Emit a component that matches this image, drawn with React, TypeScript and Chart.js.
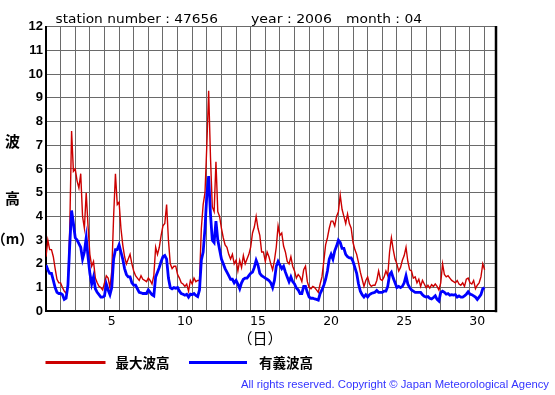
import { useEffect, useRef } from 'react';
import { Chart, registerables } from 'chart.js';

Chart.register(...registerables);

// ---- data (April 2006, station 47656), 8 readings per day starting at day 1 00:00 ----
const FIRST_DAY = 1;
const POINTS_PER_DAY = 8;

const maxWave = [
  2.3, 3.0, 2.6, 2.6, 2.3, 1.8, 1.35, 1.2,
  1.2, 1.0, 0.85, 0.75, 1.1, 3.5, 7.6, 5.9,
  6.0, 5.5, 5.2, 5.8, 4.0, 3.5, 5.0, 3.6,
  2.4, 1.9, 2.1, 1.4, 1.2, 1.05, 1.0, 0.9,
  1.2, 1.5, 1.4, 1.0, 1.7, 4.0, 5.8, 4.5,
  4.6, 3.5, 2.8, 2.3, 2.0, 2.2, 2.4, 2.0,
  1.7, 1.5, 1.4, 1.3, 1.5, 1.35, 1.3, 1.25,
  1.4, 1.3, 1.15, 1.5, 2.7, 2.4, 2.7, 3.2,
  3.6, 3.7, 4.5, 3.0, 2.0, 1.8, 1.9, 1.9,
  1.55, 1.4, 1.2, 1.15, 1.05, 1.15, 0.85, 1.3,
  1.15, 1.4, 1.25, 1.3, 1.3, 3.5, 4.5, 5.0,
  7.0, 9.3, 6.5, 4.4, 4.2, 6.3, 4.2, 4.0,
  3.5, 3.1, 2.8, 2.7, 2.4, 2.2, 2.4, 2.0,
  2.15, 1.7, 2.15, 1.85, 2.35, 2.0, 2.2, 2.4,
  2.7, 3.3, 3.55, 4.0, 3.5, 3.2, 2.5, 2.5,
  2.1, 2.5, 2.3, 2.0, 1.75, 2.15, 2.7, 3.6,
  3.2, 3.3, 2.75, 2.5, 2.1, 2.0, 2.3, 1.9,
  1.7, 1.4, 1.55, 1.45, 1.25, 1.75, 1.9, 1.25,
  1.0, 0.95, 1.05, 1.0, 0.9, 0.8, 1.15, 1.45,
  2.1, 2.8, 3.1, 3.5, 3.8, 3.8, 3.6, 4.0,
  4.2, 4.9, 4.3, 4.0, 3.7, 4.1, 3.7, 3.5,
  2.9, 2.6, 2.4, 2.05, 1.65, 1.35, 1.05, 1.3,
  1.45, 1.15, 1.05, 1.1, 1.1, 1.3, 1.7, 1.35,
  1.3, 1.45, 1.7, 1.5, 2.5, 3.1, 2.6, 2.2,
  2.0, 1.7, 1.85, 2.15, 2.35, 2.7, 2.1, 1.75,
  1.7, 1.4, 1.45, 1.2, 1.35, 1.05, 1.3, 1.15,
  1.0, 1.1, 0.98, 1.12, 1.05, 1.15, 1.05, 0.9,
  1.2, 2.0, 1.55, 1.45, 1.5, 1.4, 1.3, 1.25,
  1.2, 1.3, 1.15, 1.1, 1.2, 1.05, 1.35, 1.4,
  1.2, 1.15, 1.3, 0.95, 1.1, 1.2, 1.45, 2.0,
  1.75,
];

const sigWave = [
  1.95, 1.75, 1.6, 1.6, 1.3, 1.0, 0.8, 0.75,
  0.75, 0.7, 0.5, 0.55, 1.1, 2.8, 4.25, 3.7,
  3.1, 3.0, 2.85, 2.7, 2.2, 2.5, 3.1, 2.3,
  1.6, 1.15, 1.45, 0.95, 0.8, 0.7, 0.6, 0.6,
  0.65, 1.15, 0.9, 0.7, 1.0, 2.2, 2.6, 2.6,
  2.8, 2.5, 2.2, 1.8, 1.55, 1.45, 1.45, 1.2,
  1.1, 1.1, 0.95, 0.8, 0.78, 0.75, 0.75, 0.75,
  0.9, 0.8, 0.7, 0.65, 1.45, 1.65, 1.85, 2.1,
  2.3, 2.35, 2.2, 1.4, 1.0, 0.95, 1.0, 0.97,
  1.0, 0.85, 0.75, 0.72, 0.68, 0.72, 0.6, 0.72,
  0.7, 0.75, 0.67, 0.62, 0.9, 2.15, 2.5, 3.5,
  4.9, 5.7, 4.1, 3.0, 2.9, 3.8, 3.0, 2.6,
  2.2, 2.0, 1.8, 1.65, 1.5, 1.35, 1.35, 1.2,
  1.3, 1.15, 0.95, 1.2, 1.35, 1.4, 1.4, 1.5,
  1.6, 1.65, 1.85, 2.15, 1.95, 1.6, 1.5, 1.45,
  1.4, 1.35, 1.3, 1.2, 1.0, 1.3, 1.9, 2.1,
  1.95, 1.8, 1.9, 1.65, 1.45, 1.25, 1.45, 1.25,
  1.15, 0.98, 0.9, 0.75, 0.75, 1.05, 1.05, 0.8,
  0.6, 0.55, 0.55, 0.52, 0.5, 0.47, 0.75, 0.9,
  1.1, 1.35, 1.7, 2.2, 2.4, 2.2, 2.55, 2.75,
  3.0, 2.9, 2.65, 2.65, 2.4, 2.3, 2.25, 2.25,
  2.1, 1.85, 1.6, 1.15, 0.85, 0.7, 0.6, 0.7,
  0.6, 0.7, 0.75, 0.78, 0.8, 0.88, 0.8, 0.8,
  0.8, 0.85, 0.85, 1.05, 1.55, 1.65, 1.4, 1.2,
  1.0, 1.05, 1.0, 1.05, 1.2, 1.5, 1.15, 1.0,
  0.9, 0.85, 0.8, 0.8, 0.8, 0.8, 0.7, 0.63,
  0.6, 0.62, 0.55, 0.52, 0.58, 0.65, 0.5, 0.43,
  0.8, 0.85, 0.8, 0.72, 0.75, 0.68, 0.7, 0.68,
  0.7, 0.6, 0.65, 0.6, 0.6, 0.65, 0.72, 0.82,
  0.72, 0.7, 0.65, 0.6, 0.5, 0.6, 0.7, 0.95,
  1.0,
];

const gridDays = [1, 2, 3, 4, 5, 6, 7, 8, 9, 10, 11, 12, 13, 14, 15, 16, 17, 18, 19, 20, 21, 22, 23, 24, 25, 26, 27, 28, 29, 30, 31];
const labelDays = [5, 10, 15, 20, 25, 30];
const yTicks = [0, 1, 2, 3, 4, 5, 6, 7, 8, 9, 10, 11, 12];

const titleParts = ['station number : 47656', 'year : 2006', 'month : 04'];
const seriesNames = ['最大波高', '有義波高'];
const yTitle = ['波', '高', '（m）'];
const xTitle = '（日）';
const copyright = 'All rights reserved. Copyright © Japan Meteorological Agency';

// ---- styles ----
const RED = '#cc0000';
const BLUE = '#0000ff';
const GRID = '#6a6a6a';
const W = 555;
const H = 395;
const X_MAX = 31.78;

const toPoints = (arr: number[]) => arr.map((v, i) => ({ x: FIRST_DAY + i / POINTS_PER_DAY, y: v }));

// draw text so that it spans [x0, x1] (horizontal stretch)
function fitText(ctx: CanvasRenderingContext2D, text: string, x0: number, x1: number, y: number) {
  ctx.save();
  ctx.textAlign = 'left';
  const w = ctx.measureText(text).width || 1;
  const sx = (x1 - x0) / w;
  ctx.translate(x0, y);
  ctx.scale(sx, 1);
  ctx.fillText(text, 0, 0);
  ctx.restore();
}

const framePlugin = {
  id: 'frame',
  afterDraw(chart: any) {
    const { ctx, chartArea } = chart;
    ctx.save();
    ctx.strokeStyle = '#000';
    ctx.lineWidth = 2.5;
    ctx.beginPath();
    ctx.moveTo(chartArea.right, chartArea.top - 0.5);
    ctx.lineTo(chartArea.right, chartArea.bottom + 1);
    ctx.stroke();
    ctx.restore();
  },
};

const decorPlugin = {
  id: 'decor',
  afterDraw(chart: any) {
    const ctx = chart.ctx as CanvasRenderingContext2D;
    ctx.save();
    // title
    ctx.fillStyle = '#000';
    ctx.textBaseline = 'alphabetic';
    ctx.font = '13px "DejaVu Sans"';
    const titleSpans = [
      [55.5, 218],
      [251, 332],
      [346, 422],
    ];
    titleParts.forEach((t, i) => fitText(ctx, t, titleSpans[i][0], titleSpans[i][1], 22.5));

    // y-axis title (stacked)
    ctx.textAlign = 'center';
    ctx.textBaseline = 'middle';
    const yTitleY = [141, 198, 239];
    yTitle.forEach((t, i) => {
      ctx.font = i === 2 ? 'bold 14px "Noto Sans CJK JP"' : 'bold 15px "Noto Sans CJK JP"';
      ctx.fillText(t, 12.5, yTitleY[i]);
    });

    // x-axis title
    ctx.font = '15px "Noto Sans CJK JP"';
    ctx.textAlign = 'center';
    ctx.fillText(xTitle, 260, 338);

    // legend
    const legendY = 362.5;
    const lines = [
      { x0: 45.5, x1: 105.5, tx: 115.5, color: RED },
      { x0: 189, x1: 247, tx: 259, color: BLUE },
    ];
    ctx.lineWidth = 3;
    lines.forEach((l, i) => {
      ctx.strokeStyle = l.color;
      ctx.beginPath();
      ctx.moveTo(l.x0, legendY);
      ctx.lineTo(l.x1, legendY);
      ctx.stroke();
      ctx.fillStyle = '#000';
      ctx.textAlign = 'left';
      ctx.font = 'bold 13.5px "Noto Sans CJK JP"';
      ctx.fillText(seriesNames[i], l.tx, legendY + 0.5);
    });

    // copyright
    ctx.fillStyle = '#3333ff';
    ctx.font = '10px "Liberation Sans"';
    ctx.textBaseline = 'middle';
    fitText(ctx, copyright, 241, 549, 385);
    ctx.restore();
  },
};

export default function App() {
  const ref = useRef<HTMLCanvasElement>(null);

  useEffect(() => {
    const canvas = ref.current;
    if (!canvas) return;
    const chart = new Chart(canvas, {
      type: 'line',
      data: {
        datasets: [
          {
            label: seriesNames[0],
            data: toPoints(maxWave),
            borderColor: RED,
            backgroundColor: RED,
            borderWidth: 1.4,
            pointRadius: 0,
            tension: 0,
            order: 1,
          },
          {
            label: seriesNames[1],
            data: toPoints(sigWave),
            borderColor: BLUE,
            backgroundColor: BLUE,
            borderWidth: 2.8,
            pointRadius: 0,
            tension: 0,
            order: 0,
          },
        ],
      },
      options: {
        animation: false,
        responsive: false,
        devicePixelRatio: 1,
        events: [],
        layout: { padding: { left: 0, right: W - 496, top: 26.6, bottom: 0 } },
        plugins: {
          legend: { display: false },
          tooltip: { enabled: false },
          title: { display: false },
        },
        scales: {
          x: {
            type: 'linear',
            min: FIRST_DAY,
            max: X_MAX,
            afterBuildTicks: (s: any) => {
              s.ticks = gridDays.map((v) => ({ value: v }));
            },
            afterFit: (s: any) => {
              s.height = H - 311.3;
            },
            grid: { color: GRID, lineWidth: 1, drawTicks: false },
            border: { color: '#000', width: 2 },
            ticks: {
              autoSkip: false,
              maxRotation: 0,
              minRotation: 0,
              padding: 3,
              labelOffset: 7.31,
              color: '#000',
              font: { family: '"DejaVu Sans"', size: 12.5 },
              callback: (v: any) => (labelDays.includes(Number(v)) ? String(v) : ''),
            },
          },
          y: {
            type: 'linear',
            min: 0,
            max: 12,
            afterBuildTicks: (s: any) => {
              s.ticks = yTicks.map((v) => ({ value: v }));
            },
            afterFit: (s: any) => {
              s.width = 46;
            },
            grid: { color: GRID, lineWidth: 1, drawTicks: false },
            border: { color: '#000', width: 2 },
            ticks: {
              padding: 3,
              color: '#000',
              font: { family: '"Liberation Sans"', size: 13, weight: 'bold' },
            },
          },
        },
      },
      plugins: [framePlugin, decorPlugin],
    } as any);
    return () => chart.destroy();
  }, []);

  return (
    <div style={{ position: 'absolute', left: 0, top: 0, width: W, height: H, background: '#fff' }}>
      <canvas ref={ref} width={W} height={H} style={{ display: 'block' }} />
    </div>
  );
}
